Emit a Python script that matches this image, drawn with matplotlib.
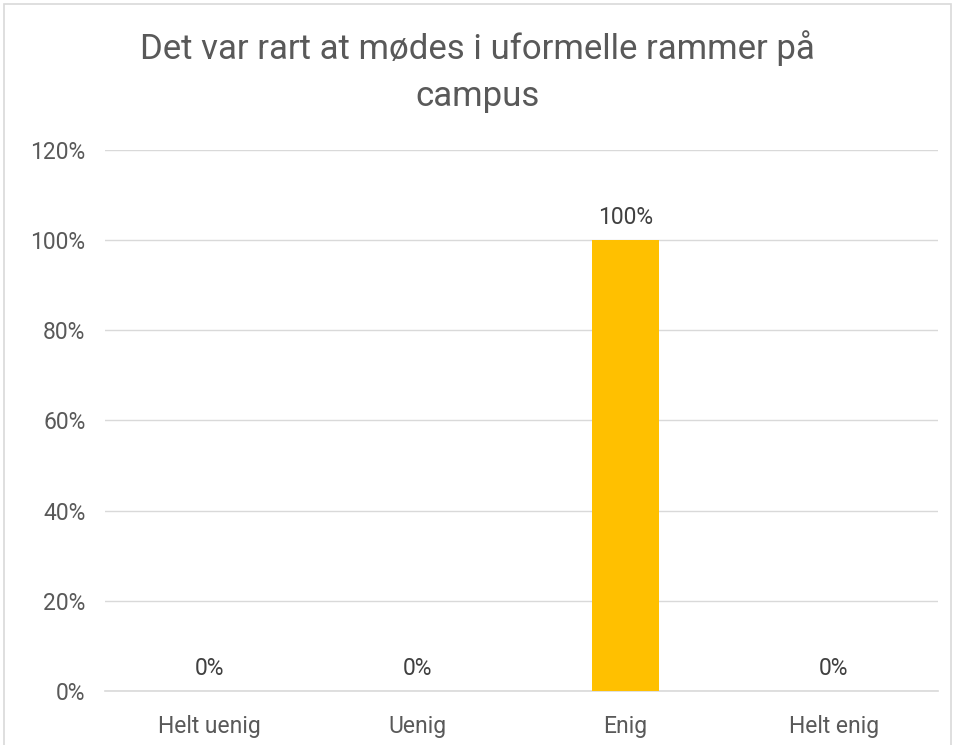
import matplotlib
matplotlib.use("Agg")
import matplotlib.pyplot as plt
from matplotlib.patches import Rectangle
from matplotlib.ticker import FuncFormatter

categories = ["Helt uenig", "Uenig", "Enig", "Helt enig"]
values = [0, 0, 100, 0]
title = "Det var rart at mødes i uformelle rammer på\ncampus"

plt.rcParams['font.family'] = ['Roboto', 'DejaVu Sans']
txt = '#595959'

fig = plt.figure(figsize=(9.55, 7.45), dpi=100)
ax = fig.add_axes([0.110, 0.0725, 0.872, 0.7262])

x = range(len(categories))
bars = ax.bar(x, values, width=0.32, color='#FFC000', zorder=3)
for xi, v in zip(x, values):
    ax.text(xi, v + 2.4, f"{v}%", ha='center', va='bottom', fontsize=16.5, color='#404040')

ax.set_xlim(-0.5, len(categories) - 0.5)
ax.set_ylim(0, 120)
ax.set_yticks(range(0, 121, 20))
ax.yaxis.set_major_formatter(FuncFormatter(lambda v, p: f"{int(v)}%"))
ax.set_xticks(list(x))
ax.set_xticklabels(categories)
ax.grid(axis='y', color='#D9D9D9', linewidth=1, zorder=0)
for s in ['top', 'right', 'left']:
    ax.spines[s].set_visible(False)
ax.spines['bottom'].set_color('#D9D9D9')
ax.spines['bottom'].set_linewidth(1.2)
ax.tick_params(axis='both', length=0, labelsize=16.5, labelcolor=txt)
ax.tick_params(axis='y', pad=14)
ax.tick_params(axis='x', pad=17)

fig.text(0.5, 0.96, title, ha='center', va='top', fontsize=25, color=txt, linespacing=1.55)

fig.patches.append(Rectangle((0.004, -0.01), 0.992, 1.004, transform=fig.transFigure,
                             fill=False, edgecolor='#D9D9D9', linewidth=1.2))

fig.savefig("out.png", dpi=100, facecolor='white')
